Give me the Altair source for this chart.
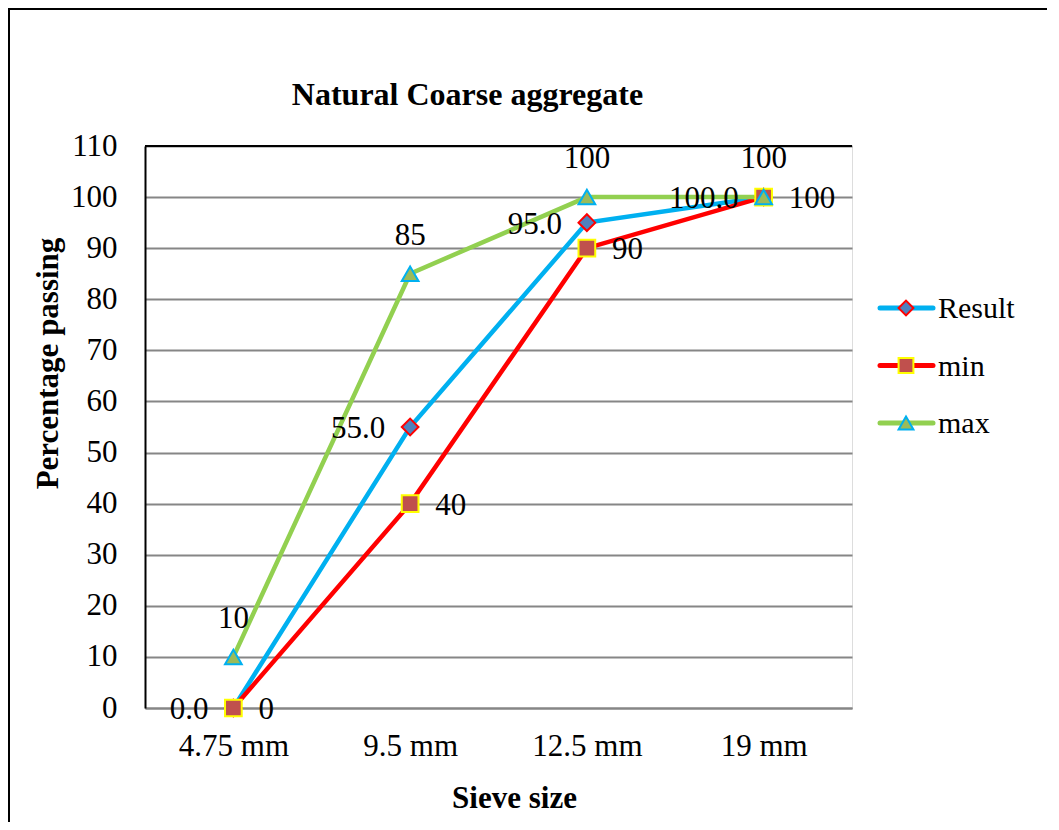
import altair as alt
import pandas as pd

sizes = ["4.75 mm", "9.5 mm", "12.5 mm", "19 mm"]
series = ["Result", "min", "max"]
result_vals = [0.0, 55.0, 95.0, 100.0]
min_vals = [0, 40, 90, 100]
max_vals = [10, 85, 100, 100]

line_colors = ["#00B0F0", "#FF0000", "#92D050"]
fill_colors = ["#4F81BD", "#C0504D", "#9BBB59"]
stroke_colors = ["#FF0000", "#FFFF00", "#00B0F0"]
shapes = ["diamond", "square", "triangle-up"]

FONT = "Liberation Serif"

rows = []
for s, vals, fmt in [("Result", result_vals, "{:.1f}"), ("min", min_vals, "{:d}"), ("max", max_vals, "{:d}")]:
    for sz, v in zip(sizes, vals):
        rows.append({"size": sz, "series": s, "value": v, "label": fmt.format(v)})
df = pd.DataFrame(rows)
leg = pd.DataFrame({"series": series})

yscale = alt.Scale(domain=[0, 110], nice=False)
xenc = alt.X("size:N", sort=sizes, scale=alt.Scale(type="point", padding=0.5),
             axis=alt.Axis(title="Sieve size", labelAngle=0, labelFont=FONT, labelFontSize=31,
                           labelColor="black", labelBaseline="alphabetic", labelPadding=47,
                           ticks=False, tickSize=0, domainColor="#868686", domainWidth=2,
                           titleFont=FONT, titleFontSize=31, titleFontWeight="bold",
                           titleColor="black", titleX=369, titleY=99,
                           titleBaseline="alphabetic", titleAnchor="start", titleAlign="center"))
yaxis = alt.Axis(title="Percentage  passing", values=list(range(0, 111, 10)),
                 labelFont=FONT, labelFontSize=31, labelColor="black", labelPadding=28,
                 ticks=False, tickSize=0, domainColor="black", domainWidth=2,
                 grid=True, gridColor="#868686", gridWidth=2,
                 titleFont=FONT, titleFontSize=31, titleFontWeight="bold", titleColor="black",
                 titleX=-97, titleY=217, titleAngle=-90, titleAlign="center",
                 titleBaseline="middle", titleAnchor="start")

base = alt.Chart(df)
color = alt.Color("series:N", scale=alt.Scale(domain=series, range=line_colors), legend=None)
fill = alt.Fill("series:N", scale=alt.Scale(domain=series, range=fill_colors), legend=None)
stroke = alt.Stroke("series:N", scale=alt.Scale(domain=series, range=stroke_colors), legend=None)
shape = alt.Shape("series:N", scale=alt.Scale(domain=series, range=shapes), legend=None)

lines = base.mark_line(strokeWidth=4.5).encode(
    x=xenc, y=alt.Y("value:Q", scale=yscale, axis=yaxis), color=color,
    order=alt.Order("order:Q"))
lines = lines.transform_calculate(order="indexof(['4.75 mm','9.5 mm','12.5 mm','19 mm'], datum.size)")

points = base.mark_point(filled=True, size=280, strokeWidth=2, opacity=1).encode(
    x=xenc, y=alt.Y("value:Q", scale=yscale, axis=None), fill=fill, stroke=stroke, shape=shape)

top_rule = alt.Chart(pd.DataFrame({"v": [110]})).mark_rule(color="black", strokeWidth=2).encode(
    y=alt.Y("v:Q", scale=yscale, axis=None))

lab_res = base.transform_filter("datum.series == 'Result'").mark_text(
    font=FONT, fontSize=31, align="right", baseline="middle", dx=-25, dy=2, color="black").encode(
    x=xenc, y=alt.Y("value:Q", scale=yscale, axis=None), text="label:N")
lab_min = base.transform_filter("datum.series == 'min'").mark_text(
    font=FONT, fontSize=31, align="left", baseline="middle", dx=25, dy=2, color="black").encode(
    x=xenc, y=alt.Y("value:Q", scale=yscale, axis=None), text="label:N")
lab_max = base.transform_filter("datum.series == 'max'").mark_text(
    font=FONT, fontSize=31, align="center", baseline="alphabetic", dy=-29, color="black").encode(
    x=xenc, y=alt.Y("value:Q", scale=yscale, axis=None), text="label:N")

ly = alt.Y("series:N", scale=alt.Scale(type="point", domain=series, range=[162, 277], padding=0),
           axis=None)
leg_base = alt.Chart(leg)
leg_line = leg_base.mark_rule(strokeWidth=5, strokeCap="round").encode(
    x=alt.value(735), x2=alt.value(788), y=ly, color=color)
leg_pt = leg_base.mark_point(filled=True, size=220, strokeWidth=2, opacity=1).encode(
    x=alt.value(761), y=ly, fill=fill, stroke=stroke, shape=shape)
leg_txt = leg_base.mark_text(font=FONT, fontSize=30, align="left", baseline="middle",
                             dy=1, color="black").encode(x=alt.value(793), y=ly, text="series:N")

frame_left = alt.Chart(leg).mark_rule(color="black", strokeWidth=2).encode(
    x=alt.value(-136), y=alt.value(-137), y2=alt.value(700))
frame_top = alt.Chart(leg).mark_rule(color="black", strokeWidth=2).encode(
    x=alt.value(-137), x2=alt.value(1000), y=alt.value(-137))

chart = alt.layer(
    lines, top_rule, points, lab_res, lab_min, lab_max,
    leg_line, leg_pt, leg_txt, frame_left, frame_top
).resolve_scale(y="independent").properties(
    width=707, height=562,
    padding={"left": 137, "top": 138, "right": 195, "bottom": 114},
    autosize=alt.AutoSizeParams(type="none"),
    title=alt.Title("Natural Coarse aggregate", font=FONT, fontSize=32, fontWeight="bold",
                    color="black", anchor="middle", dx=-31, offset=-129, baseline="alphabetic"),
).configure_view(stroke="#868686", strokeWidth=2).configure(background="white")

chart.save("out.html", embed_options={"renderer": "svg", "actions": False})
